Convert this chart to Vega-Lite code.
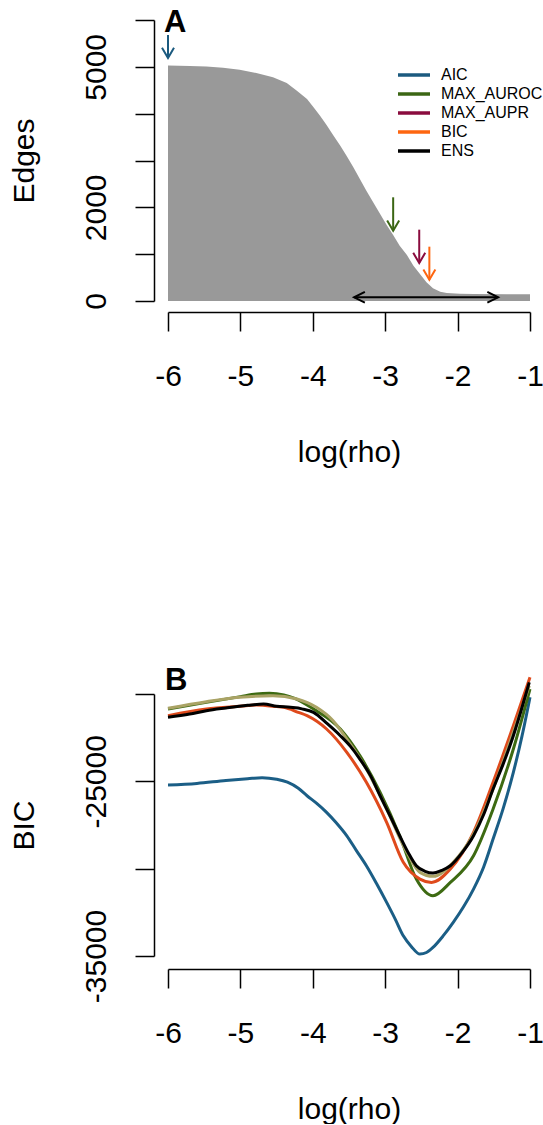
{
  "$schema": "https://vega.github.io/schema/vega-lite/v6.json",
  "padding": {"left": 9, "top": 7, "right": 0, "bottom": 0},
  "bounds": "flush",
  "spacing": 393,
  "config": {
    "view": {"stroke": null},
    "font": "Liberation Sans",
    "axis": {
      "grid": false,
      "domainColor": "black",
      "tickColor": "black",
      "domainWidth": 1.5,
      "tickWidth": 1.5,
      "tickSize": 19,
      "labelFont": "Liberation Sans",
      "labelFontSize": 30,
      "labelColor": "black",
      "titleFont": "Liberation Sans",
      "titleFontSize": 30,
      "titleFontWeight": "normal",
      "titleColor": "black"
    },
    "title": {"font": "Liberation Sans", "fontSize": 31, "fontWeight": "bold", "anchor": "start", "color": "black"}
  },
  "resolve": {"scale": {"x": "independent", "y": "independent", "color": "independent"}, "legend": {"color": "independent"}},
  "datasets": {
    "edges": [
      {"x": -6.0, "edges": 5030}, {"x": -5.7, "edges": 5020}, {"x": -5.47, "edges": 5008},
      {"x": -5.24, "edges": 4982}, {"x": -5.01, "edges": 4939}, {"x": -4.78, "edges": 4869},
      {"x": -4.55, "edges": 4777}, {"x": -4.36, "edges": 4655}, {"x": -4.22, "edges": 4491},
      {"x": -4.08, "edges": 4313}, {"x": -3.99, "edges": 4135}, {"x": -3.9, "edges": 3957},
      {"x": -3.81, "edges": 3758}, {"x": -3.72, "edges": 3545}, {"x": -3.62, "edges": 3316},
      {"x": -3.53, "edges": 3090}, {"x": -3.44, "edges": 2855}, {"x": -3.35, "edges": 2605},
      {"x": -3.26, "edges": 2355}, {"x": -3.16, "edges": 2093}, {"x": -3.07, "edges": 1858},
      {"x": -2.98, "edges": 1623}, {"x": -2.89, "edges": 1409}, {"x": -2.8, "edges": 1181},
      {"x": -2.7, "edges": 982}, {"x": -2.61, "edges": 754}, {"x": -2.52, "edges": 577},
      {"x": -2.43, "edges": 399}, {"x": -2.34, "edges": 271}, {"x": -2.24, "edges": 199},
      {"x": -2.15, "edges": 171}, {"x": -1.97, "edges": 157}, {"x": -1.78, "edges": 150},
      {"x": -1.32, "edges": 142}, {"x": -1.0, "edges": 142}
    ],
    "arrows": [
      {"method": "AIC", "x": -6.0, "y": 5680, "y2": 5189},
      {"method": "MAX_AUROC", "x": -2.89, "y": 2214, "y2": 1502},
      {"method": "MAX_AUPR", "x": -2.53, "y": 1523, "y2": 811},
      {"method": "BIC", "x": -2.39, "y": 1160, "y2": 455}
    ],
    "ens": [
      {"method": "ENS", "x": -3.43, "x2": -1.44, "y": 79}
    ],
    "heads": [
      {"method": "AIC", "x": -6.0, "y": 5189, "dir": "down"},
      {"method": "MAX_AUROC", "x": -2.89, "y": 1502, "dir": "down"},
      {"method": "MAX_AUPR", "x": -2.53, "y": 811, "dir": "down"},
      {"method": "BIC", "x": -2.39, "y": 455, "dir": "down"},
      {"method": "ENS", "x": -3.43, "y": 79, "dir": "left"},
      {"method": "ENS", "x": -1.44, "y": 79, "dir": "right"}
    ],
    "bic": [
      {"series": "AIC", "x": -6.0, "bic": -25212}, {"series": "AIC", "x": -5.6, "bic": -25120},
      {"series": "AIC", "x": -5.2, "bic": -24950}, {"series": "AIC", "x": -4.9, "bic": -24850},
      {"series": "AIC", "x": -4.7, "bic": -24790}, {"series": "AIC", "x": -4.5, "bic": -24880},
      {"series": "AIC", "x": -4.35, "bic": -25050}, {"series": "AIC", "x": -4.2, "bic": -25400},
      {"series": "AIC", "x": -4.08, "bic": -25825}, {"series": "AIC", "x": -3.95, "bic": -26250},
      {"series": "AIC", "x": -3.81, "bic": -26776}, {"series": "AIC", "x": -3.67, "bic": -27400},
      {"series": "AIC", "x": -3.53, "bic": -28116}, {"series": "AIC", "x": -3.4, "bic": -28950},
      {"series": "AIC", "x": -3.26, "bic": -29834}, {"series": "AIC", "x": -3.12, "bic": -30850},
      {"series": "AIC", "x": -2.98, "bic": -31931}, {"series": "AIC", "x": -2.86, "bic": -32900},
      {"series": "AIC", "x": -2.75, "bic": -33844}, {"series": "AIC", "x": -2.64, "bic": -34450},
      {"series": "AIC", "x": -2.52, "bic": -34891}, {"series": "AIC", "x": -2.43, "bic": -34800},
      {"series": "AIC", "x": -2.34, "bic": -34508}, {"series": "AIC", "x": -2.2, "bic": -33850},
      {"series": "AIC", "x": -2.06, "bic": -33076}, {"series": "AIC", "x": -1.92, "bic": -32200},
      {"series": "AIC", "x": -1.78, "bic": -31168}, {"series": "AIC", "x": -1.64, "bic": -29900},
      {"series": "AIC", "x": -1.51, "bic": -28305}, {"series": "AIC", "x": -1.37, "bic": -26550},
      {"series": "AIC", "x": -1.23, "bic": -24485}, {"series": "AIC", "x": -1.11, "bic": -22400},
      {"series": "AIC", "x": -1.0, "bic": -20190},

      {"series": "MAX_AUROC", "x": -6.0, "bic": -20857}, {"series": "MAX_AUROC", "x": -5.47, "bic": -20479},
      {"series": "MAX_AUROC", "x": -5.0, "bic": -20150}, {"series": "MAX_AUROC", "x": -4.78, "bic": -20000},
      {"series": "MAX_AUROC", "x": -4.6, "bic": -19962}, {"series": "MAX_AUROC", "x": -4.4, "bic": -20050},
      {"series": "MAX_AUROC", "x": -4.25, "bic": -20248}, {"series": "MAX_AUROC", "x": -3.99, "bic": -20859},
      {"series": "MAX_AUROC", "x": -3.62, "bic": -22004}, {"series": "MAX_AUROC", "x": -3.35, "bic": -23531},
      {"series": "MAX_AUROC", "x": -3.07, "bic": -25630}, {"series": "MAX_AUROC", "x": -2.8, "bic": -28116},
      {"series": "MAX_AUROC", "x": -2.57, "bic": -30597}, {"series": "MAX_AUROC", "x": -2.34, "bic": -31550},
      {"series": "MAX_AUROC", "x": -2.1, "bic": -30786}, {"series": "MAX_AUROC", "x": -1.78, "bic": -29258},
      {"series": "MAX_AUROC", "x": -1.51, "bic": -26586}, {"series": "MAX_AUROC", "x": -1.23, "bic": -23150},
      {"series": "MAX_AUROC", "x": -1.0, "bic": -19714},

      {"series": "BIC", "x": -6.0, "bic": -21240}, {"series": "BIC", "x": -5.47, "bic": -20859},
      {"series": "BIC", "x": -5.0, "bic": -20700}, {"series": "BIC", "x": -4.78, "bic": -20630},
      {"series": "BIC", "x": -4.5, "bic": -20720}, {"series": "BIC", "x": -4.4, "bic": -20764},
      {"series": "BIC", "x": -4.2, "bic": -21050}, {"series": "BIC", "x": -4.08, "bic": -21240},
      {"series": "BIC", "x": -3.81, "bic": -22004}, {"series": "BIC", "x": -3.53, "bic": -23340},
      {"series": "BIC", "x": -3.26, "bic": -25058}, {"series": "BIC", "x": -2.98, "bic": -27349},
      {"series": "BIC", "x": -2.75, "bic": -29639}, {"series": "BIC", "x": -2.52, "bic": -30597},
      {"series": "BIC", "x": -2.36, "bic": -30786}, {"series": "BIC", "x": -2.1, "bic": -30023},
      {"series": "BIC", "x": -1.78, "bic": -27922}, {"series": "BIC", "x": -1.51, "bic": -25058},
      {"series": "BIC", "x": -1.23, "bic": -21815}, {"series": "BIC", "x": -1.0, "bic": -19044},

      {"series": "MAX_AUPR", "x": -6.0, "bic": -20819}, {"series": "MAX_AUPR", "x": -5.47, "bic": -20441},
      {"series": "MAX_AUPR", "x": -5.01, "bic": -20189}, {"series": "MAX_AUPR", "x": -4.55, "bic": -20097},
      {"series": "MAX_AUPR", "x": -4.22, "bic": -20286}, {"series": "MAX_AUPR", "x": -3.95, "bic": -20762},
      {"series": "MAX_AUPR", "x": -3.72, "bic": -21529}, {"series": "MAX_AUPR", "x": -3.53, "bic": -22577},
      {"series": "MAX_AUPR", "x": -3.26, "bic": -24296}, {"series": "MAX_AUPR", "x": -2.98, "bic": -26586},
      {"series": "MAX_AUPR", "x": -2.7, "bic": -29067}, {"series": "MAX_AUPR", "x": -2.52, "bic": -30212},
      {"series": "MAX_AUPR", "x": -2.34, "bic": -30441}, {"series": "MAX_AUPR", "x": -2.06, "bic": -29639},
      {"series": "MAX_AUPR", "x": -1.78, "bic": -28018}, {"series": "MAX_AUPR", "x": -1.51, "bic": -25441},
      {"series": "MAX_AUPR", "x": -1.23, "bic": -22194}, {"series": "MAX_AUPR", "x": -1.01, "bic": -19525},

      {"series": "ENS", "x": -6.0, "bic": -21336}, {"series": "ENS", "x": -5.7, "bic": -21150},
      {"series": "ENS", "x": -5.47, "bic": -20955}, {"series": "ENS", "x": -5.2, "bic": -20800},
      {"series": "ENS", "x": -4.9, "bic": -20650}, {"series": "ENS", "x": -4.68, "bic": -20573},
      {"series": "ENS", "x": -4.5, "bic": -20700}, {"series": "ENS", "x": -4.31, "bic": -20764},
      {"series": "ENS", "x": -4.15, "bic": -20850}, {"series": "ENS", "x": -3.99, "bic": -21050},
      {"series": "ENS", "x": -3.8, "bic": -21700}, {"series": "ENS", "x": -3.62, "bic": -22388},
      {"series": "ENS", "x": -3.48, "bic": -23000}, {"series": "ENS", "x": -3.35, "bic": -23723},
      {"series": "ENS", "x": -3.2, "bic": -24700}, {"series": "ENS", "x": -3.07, "bic": -25825},
      {"series": "ENS", "x": -2.93, "bic": -27000}, {"series": "ENS", "x": -2.8, "bic": -28116},
      {"series": "ENS", "x": -2.68, "bic": -29100}, {"series": "ENS", "x": -2.57, "bic": -29834},
      {"series": "ENS", "x": -2.45, "bic": -30150}, {"series": "ENS", "x": -2.34, "bic": -30252},
      {"series": "ENS", "x": -2.22, "bic": -30100}, {"series": "ENS", "x": -2.1, "bic": -29834},
      {"series": "ENS", "x": -1.94, "bic": -29100}, {"series": "ENS", "x": -1.78, "bic": -28116},
      {"series": "ENS", "x": -1.64, "bic": -26900}, {"series": "ENS", "x": -1.51, "bic": -25441},
      {"series": "ENS", "x": -1.37, "bic": -24000}, {"series": "ENS", "x": -1.23, "bic": -22388},
      {"series": "ENS", "x": -1.12, "bic": -20900}, {"series": "ENS", "x": -1.01, "bic": -19330}
    ]
  },
  "vconcat": [
    {
      "width": 362,
      "height": 281,
      "title": {"text": "A", "frame": "group", "baseline": "alphabetic", "offset": -12, "dy": 32, "dx": -4},
      "layer": [
        {
          "data": {"name": "edges"},
          "mark": {"type": "area", "color": "#999999", "clip": false},
          "encoding": {
            "x": {
              "field": "x", "type": "quantitative",
              "scale": {"domain": [-6, -1], "nice": false, "zero": false},
              "axis": {
                "title": "log(rho)", "values": [-6, -5, -4, -3, -2, -1],
                "labelExpr": "'-' + (-datum.value)", "offset": 11,
                "labelPadding": 30, "titlePadding": 46, "labelFlush": false, "labelOverlap": false
              }
            },
            "y": {
              "field": "edges", "type": "quantitative",
              "scale": {"domain": [0, 6000], "nice": false},
              "axis": {
                "title": "Edges", "values": [0, 1000, 2000, 3000, 4000, 5000, 6000],
                "labelExpr": "datum.value == 0 || datum.value == 2000 || datum.value == 5000 ? '' + datum.value : ''",
                "offset": 14, "labelAngle": -90, "labelAlign": "center", "labelBaseline": "alphabetic",
                "labelPadding": 30, "titlePadding": 42, "labelFlush": false, "labelOverlap": false
              }
            }
          }
        },
        {
          "data": {"name": "arrows"},
          "mark": {"type": "rule", "strokeWidth": 2},
          "encoding": {
            "x": {"field": "x", "type": "quantitative"},
            "y": {"field": "y", "type": "quantitative"},
            "y2": {"field": "y2"},
            "color": {
              "field": "method", "type": "nominal",
              "scale": {"domain": ["AIC", "MAX_AUROC", "MAX_AUPR", "BIC", "ENS"], "range": ["#1b5a7f", "#3b6614", "#8a0c3e", "#fe6610", "#000000"]},
              "legend": {
                "title": null, "orient": "none", "legendX": 238, "legendY": 47,
                "symbolType": "M-4,0L4,0", "symbolSize": 64, "symbolStrokeWidth": 3.5,
                "labelFontSize": 16, "labelFont": "Liberation Sans", "labelColor": "black",
                "labelOffset": 19, "rowPadding": 3, "labelLimit": 300
              }
            }
          }
        },
        {
          "data": {"name": "ens"},
          "mark": {"type": "rule", "strokeWidth": 2},
          "encoding": {
            "x": {"field": "x", "type": "quantitative"},
            "x2": {"field": "x2"},
            "y": {"field": "y", "type": "quantitative"},
            "color": {"field": "method", "type": "nominal"}
          }
        },
        {
          "data": {"name": "heads"},
          "mark": {"type": "point", "filled": false, "strokeWidth": 2, "opacity": 1, "size": 576},
          "encoding": {
            "x": {"field": "x", "type": "quantitative"},
            "y": {"field": "y", "type": "quantitative"},
            "color": {"field": "method", "type": "nominal"},
            "shape": {
              "field": "dir", "type": "nominal",
              "scale": {"domain": ["down", "left", "right"], "range": ["M-0.5,-0.85L0,0L0.5,-0.85", "M0.9,-0.45L0,0L0.9,0.45", "M-0.9,-0.45L0,0L-0.9,0.45"]},
              "legend": null
            }
          }
        }
      ]
    },
    {
      "width": 362,
      "height": 262,
      "title": {"text": "B", "frame": "group", "baseline": "alphabetic", "offset": 5, "dy": 55, "dx": -3},
      "data": {"name": "bic"},
      "mark": {"type": "line", "strokeWidth": 3, "interpolate": "monotone", "clip": false},
      "encoding": {
        "x": {
          "field": "x", "type": "quantitative",
          "scale": {"domain": [-6, -1], "nice": false, "zero": false},
          "axis": {
            "title": "log(rho)", "values": [-6, -5, -4, -3, -2, -1],
            "labelExpr": "'-' + (-datum.value)", "offset": 13,
            "labelPadding": 30, "titlePadding": 46, "labelFlush": false, "labelOverlap": false
          }
        },
        "y": {
          "field": "bic", "type": "quantitative",
          "scale": {"domain": [-35000, -20000], "nice": false, "zero": false},
          "axis": {
            "title": "BIC", "values": [-35000, -30000, -25000, -20000],
            "labelExpr": "datum.value == -35000 ? '-35000' : datum.value == -25000 ? '-25000' : ''",
            "offset": 14, "labelAngle": -90, "labelAlign": "center", "labelBaseline": "alphabetic",
            "labelPadding": 30, "titlePadding": 42, "labelFlush": false, "labelOverlap": false
          }
        },
        "color": {
          "field": "series", "type": "nominal",
          "scale": {"domain": ["AIC", "MAX_AUROC", "BIC", "MAX_AUPR", "ENS"], "range": ["#1b5e86", "#3d6a12", "#df4a1c", "#aaa365", "#000000"]},
          "legend": null
        }
      }
    }
  ]
}
